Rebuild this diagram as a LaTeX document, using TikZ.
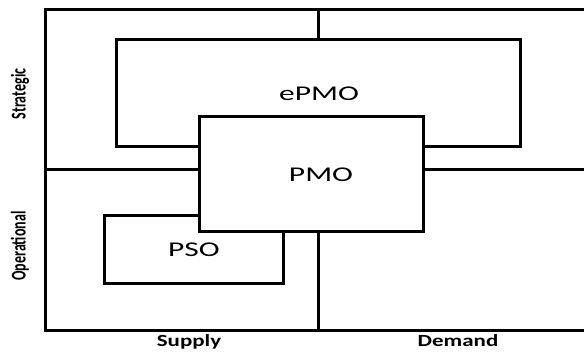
\documentclass[tikz,border=0pt]{standalone}
\usepackage{fontspec}
\setmainfont{Carlito}
\newfontfamily\boxfont[FakeStretch=1.5]{Carlito}
\newfontfamily\axisfont[FakeStretch=1.35]{Carlito}
\usetikzlibrary{positioning}

\begin{document}
\begin{tikzpicture}[x=1pt,y=-1pt,
  grid/.style={line width=3pt},
  area/.style={draw,line width=3pt,fill=white,inner sep=0pt},
  tag/.style={inner sep=0pt,font=\boxfont\fontsize{21}{21}\selectfont},
  axis/.style={inner sep=0pt,anchor=base,font=\axisfont\bfseries\fontsize{17}{17}\selectfont},
  side/.style={inner sep=0pt,rotate=90,font=\bfseries\fontsize{14}{14}\selectfont}
]
\useasboundingbox (0,0) rectangle (584,352);
% quadrant frame, open to the right
\coordinate (tl) at (45,10);
\coordinate (bl) at (45,331);
\draw[grid] (584,10) -- (tl) -- (bl) -- (584,331);
\draw[grid] (45,170) -- (584,170);
\draw[grid] (318,10) -- (318,331);
% offices
\node[area,minimum width=404pt,minimum height=107pt] (epmo) at (318,93.5) {};
\node[tag] (epmotxt) at (319,94) {ePMO};
\node[area,minimum width=179pt,minimum height=68pt] (pso) at (193.5,250) {};
\node[tag] (psotxt) at (194,250) {PSO};
\node[area,minimum width=224pt,minimum height=115pt] (pmo) at (311,174.5) {};
\node[tag] (pmotxt) at (321,174.5) {PMO};
% axis labels
\node[axis] (supply) at (189,347) {Supply};
\node[axis] (demand) at (458,347) {Demand};
\node[side] (strategic) at (20,94) {\scalebox{1}[1.5]{Strategic}};
\node[side] (operational) at (20,246) {\scalebox{1}[1.5]{Operational}};
\end{tikzpicture}
\end{document}
